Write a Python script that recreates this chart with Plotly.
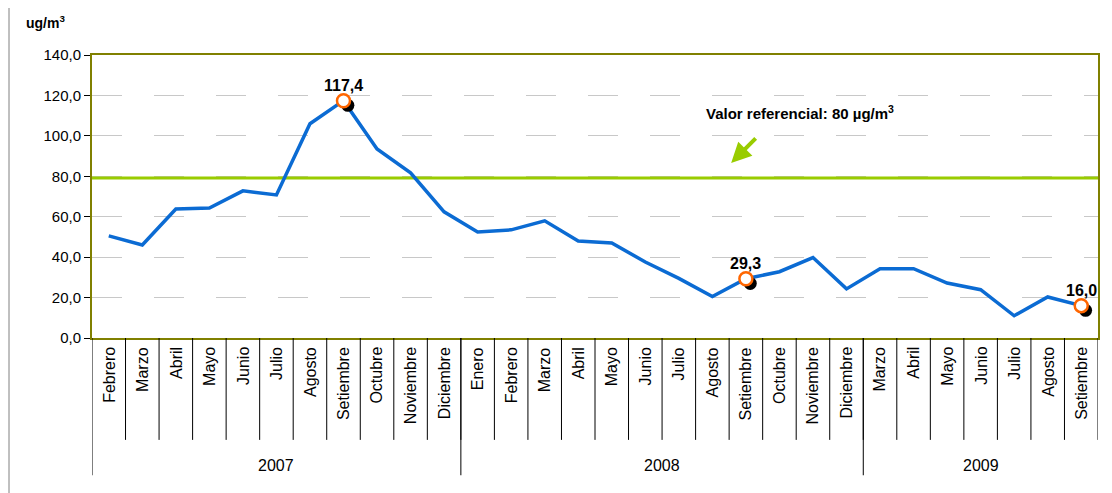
import plotly.graph_objects as go

years = ["2007", "2008", "2009"]
year_counts = [11, 12, 7]
months = ["Febrero", "Marzo", "Abril", "Mayo", "Junio", "Julio", "Agosto", "Setiembre",
          "Octubre", "Noviembre", "Diciembre",
          "Enero", "Febrero", "Marzo", "Abril", "Mayo", "Junio", "Julio", "Agosto",
          "Setiembre", "Octubre", "Noviembre", "Diciembre",
          "Marzo", "Abril", "Mayo", "Junio", "Julio", "Agosto", "Setiembre"]
values = [50.5, 46.0, 63.8, 64.3, 72.8, 70.8, 106.0, 117.4, 93.5, 81.7, 62.4,
          52.5, 53.5, 58.0, 48.0, 47.0, 37.6, 29.5, 20.5, 29.3, 32.8, 39.8, 24.3,
          34.3, 34.3, 27.2, 23.9, 11.0, 20.3, 16.0]
highlight_idx = [7, 19, 29]
highlight_labels = ["117,4", "29,3", "16,0"]
ref_value = 79.2

blue = "#0B6BD3"
green = "#99CC00"
olive = "#808000"
FONT = "Liberation Sans, Arial"

idx = list(range(len(values)))
fig = go.Figure()

fig.add_trace(go.Scatter(x=[-0.5, len(values) - 0.5], y=[ref_value, ref_value], mode="lines",
                         line=dict(color=green, width=3), hoverinfo="skip", showlegend=False))
fig.add_trace(go.Scatter(x=idx, y=values, mode="lines", text=months,
                         line=dict(color=blue, width=3.5), showlegend=False))

hx = highlight_idx
hy = [values[i] for i in highlight_idx]
fig.add_trace(go.Scatter(x=[i + 0.13 for i in hx], y=[v - 2.3 for v in hy], mode="markers",
                         marker=dict(color="black", size=13), showlegend=False, hoverinfo="skip"))
fig.add_trace(go.Scatter(x=hx, y=hy, mode="markers",
                         marker=dict(color="white", size=13, line=dict(color="#FF6600", width=2.5)),
                         showlegend=False))
for i, lab in zip(highlight_idx, highlight_labels):
    fig.add_annotation(xref="x", yref="y", x=i, y=values[i], yshift=15, xanchor="center",
                       yanchor="middle", text="<b>" + lab + "</b>", showarrow=False,
                       font=dict(size=16))

fig.update_layout(
    width=1104, height=485,
    margin=dict(l=84, r=14, t=47, b=155),
    paper_bgcolor="white", plot_bgcolor="white",
    separators=",.",
    font=dict(family=FONT, size=15, color="black"),
    xaxis=dict(range=[-0.5, len(values) - 0.5], showticklabels=False, showgrid=False,
               zeroline=False, showline=True, linecolor=olive, linewidth=2, mirror=True,
               ticks=""),
    yaxis=dict(range=[0, 140], dtick=20, tickformat=".1f",
               showline=True, linecolor=olive, linewidth=2, mirror=True,
               ticks="outside", ticklen=6, tickcolor="black",
               showgrid=True, gridcolor="#C8C8C8", gridwidth=1, griddash="30px,32px",
               zeroline=False, tickfont=dict(size=15)),
)

# month labels and separators
for i, m in enumerate(months):
    fig.add_annotation(xref="x", yref="paper", x=i, y=-0.025, xanchor="center", yanchor="top",
                       text=m, textangle=-90, showarrow=False, font=dict(size=16))
for i in range(1, len(months) + 1):
    fig.add_shape(type="line", xref="x", yref="paper", x0=i - 0.5, x1=i - 0.5, y0=0, y1=-0.36,
                  line=dict(color="black", width=1))
# year groups
start = 0
for y, c in zip(years, year_counts):
    fig.add_shape(type="line", xref="x", yref="paper", x0=start - 0.5, x1=start - 0.5,
                  y0=0, y1=-0.485, line=dict(color="black", width=1))
    fig.add_annotation(xref="x", yref="paper", x=start + (c - 1) / 2, y=-0.449,
                       xanchor="center", yanchor="middle", text=y, showarrow=False,
                       font=dict(size=16))
    start += c

fig.add_annotation(xref="paper", yref="paper", x=-0.046, y=1.117, xanchor="center", yanchor="middle",
                   text="<b>ug/m<sup>3</sup></b>", showarrow=False, font=dict(size=14))
fig.add_annotation(xref="x", yref="y", x=20.6, y=111.5, xanchor="center", yanchor="middle",
                   text="<b>Valor referencial: 80 µg/m<sup>3</sup></b>", showarrow=False,
                   font=dict(size=15))
fig.add_annotation(xref="x", yref="y", x=18.56, y=86.6, ax=26, ay=-26,
                   text="", showarrow=True, arrowhead=2, arrowsize=1, arrowwidth=4,
                   arrowcolor=green)
fig.add_shape(type="line", xref="paper", yref="paper", x0=-0.0825, x1=-0.0825, y0=-0.6, y1=1.2,
              line=dict(color="#808080", width=1))

fig.write_html("out.html")
